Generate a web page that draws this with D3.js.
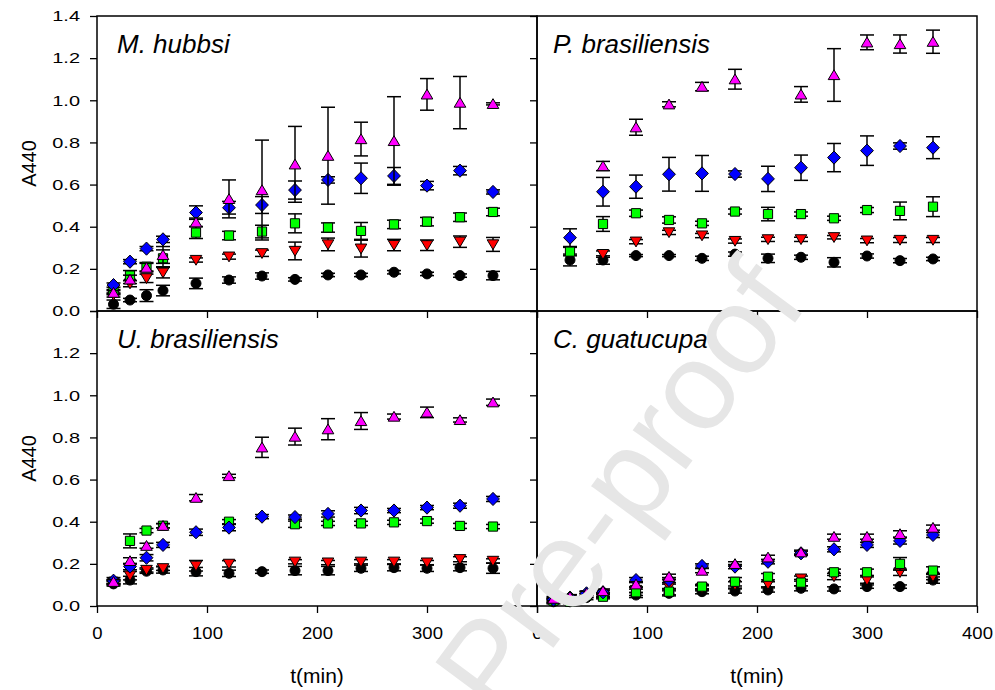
<!DOCTYPE html>
<html><head><meta charset="utf-8">
<script src="https://cdn.jsdelivr.net/npm/d3@7"></script>
<style>body{margin:0;background:#fff}svg{display:block}</style>
</head><body><svg id="c" width="995" height="690"></svg>
<script>
// ---------- DATA ----------
const timesA = [15,30,45,60,90,120,150,180,210,240,270,300,330,360];
const timesB = [30,60,90,120,150,180,210,240,270,300,330,360];
const xTicks = [0,100,200,300,400];
const yTicks = [0,0.2,0.4,0.6,0.8,1.0,1.2,1.4];
const panelTitles = ["M. hubbsi","P. brasiliensis","U. brasiliensis","C. guatucupa"];
const seriesShapes = ["circle","triDown","square","diamond","triUp"];
const seriesColors = ["#000000","#ff0000","#00ff00","#0000ff","#ff00ff"];

// M. hubbsi
const hubCircle  = [0.032,0.052,0.073,0.097,0.131,0.147,0.166,0.150,0.171,0.171,0.184,0.176,0.168,0.168];
const hubCircleE = [0.02,0.008,0.028,0.025,0.025,0.015,0.015,0.008,0.008,0.008,0.008,0.008,0.008,0.02];
const hubDown    = [0.076,0.13,0.155,0.182,0.242,0.258,0.274,0.285,0.316,0.296,0.313,0.312,0.329,0.316];
const hubDownE   = [0.01,0.015,0.02,0.025,0.01,0.012,0.015,0.042,0.03,0.04,0.027,0.025,0.027,0.033];
const hubSquare  = [0.092,0.168,0.21,0.25,0.372,0.358,0.377,0.416,0.396,0.38,0.411,0.424,0.445,0.47];
const hubSquareE = [0.01,0.024,0.02,0.04,0.028,0.02,0.03,0.045,0.022,0.04,0.02,0.02,0.02,0.018];
const hubDiam    = [0.123,0.234,0.296,0.34,0.467,0.49,0.503,0.574,0.622,0.63,0.641,0.595,0.666,0.565];
const hubDiamE   = [0.01,0.01,0.01,0.015,0.032,0.03,0.04,0.043,0.015,0.072,0.04,0.02,0.02,0.01];
const hubUp      = [0.087,0.15,0.206,0.266,0.421,0.532,0.574,0.696,0.737,0.816,0.807,1.028,0.989,0.983];
const hubUpE     = [0.01,0.02,0.02,0.04,0.02,0.09,0.237,0.18,0.23,0.08,0.21,0.075,0.124,0.005];

// P. brasiliensis
const pbrCircle  = [0.242,0.242,0.263,0.263,0.25,0.27,0.25,0.255,0.231,0.261,0.239,0.247];
const pbrCircleE = [0.028,0.02,0.005,0.005,0.01,0.01,0.02,0.01,0.022,0.01,0.01,0.008];
const pbrDown    = [null,0.27,0.329,0.373,0.358,0.332,0.34,0.34,0.35,0.334,0.337,0.337];
const pbrDownE   = [0,0.015,0.01,0.01,0.01,0.01,0.01,0.01,0.008,0.01,0.012,0.012];
const pbrSquare  = [0.282,0.413,0.464,0.432,0.416,0.472,0.46,0.46,0.44,0.479,0.475,0.495];
const pbrSquareE = [0.02,0.035,0.015,0.015,0.01,0.012,0.032,0.01,0.01,0.012,0.042,0.047];
const pbrDiam    = [0.348,0.566,0.59,0.649,0.653,0.65,0.627,0.68,0.728,0.761,0.783,0.775];
const pbrDiamE   = [0.042,0.068,0.055,0.08,0.085,0.015,0.06,0.06,0.067,0.07,0.015,0.052];
const pbrUp      = [null,0.688,0.872,0.981,1.065,1.10,null,1.028,1.12,1.275,1.267,1.278];
const pbrUpE     = [0,0.022,0.038,0.012,0.02,0.047,0,0.037,0.125,0.035,0.043,0.055];

// U. brasiliensis
const ubrCircle  = [0.105,0.123,0.165,0.171,0.163,0.155,0.163,0.168,0.168,0.179,0.182,0.179,0.182,0.179];
const ubrCircleE = [0.01,0.018,0.01,0.015,0.02,0.015,0.008,0.02,0.02,0.015,0.015,0.015,0.015,0.024];
const ubrDown    = [0.11,0.144,0.171,0.179,0.191,0.2,null,0.21,0.206,0.21,0.21,0.206,0.222,0.214];
const ubrDownE   = [0.01,0.02,0.01,0.01,0.025,0.015,0,0.01,0.01,0.01,0.01,0.01,0.012,0.01];
const ubrSquare  = [0.115,0.309,0.358,0.381,null,0.4,null,0.388,0.392,0.392,0.397,0.403,0.38,0.377];
const ubrSquareE = [0.01,0.033,0.01,0.01,0,0.01,0,0.015,0.01,0.01,0.01,0.01,0.012,0.01];
const ubrDiam    = [0.12,0.187,0.229,0.29,0.35,0.372,0.424,0.422,0.437,0.453,0.453,0.467,0.476,0.508];
const ubrDiamE   = [0.015,0.015,0.015,0.012,0.015,0.015,0.01,0.01,0.015,0.015,0.01,0.01,0.012,0.012];
const ubrUp      = [0.115,0.214,0.286,0.381,0.514,0.617,0.753,0.804,0.839,0.878,0.899,0.919,0.883,0.967];
const ubrUpE     = [0.01,0.015,0.012,0.01,0.015,0.008,0.048,0.04,0.05,0.04,0.012,0.025,0.01,0.015];

// C. guatucupa
const cguCircle  = [0.02,0.02,0.04,0.05,0.052,0.06,0.068,0.071,0.076,0.084,0.081,0.092,0.092,0.123];
const cguCircleE = [0.01,0.01,0.01,0.01,0.012,0.012,0.01,0.01,0.01,0.012,0.01,0.008,0.008,0.015];
const cguDown    = [0.025,0.03,0.05,0.055,0.076,0.092,0.084,0.1,0.103,0.13,0.14,0.123,0.16,0.14];
const cguDownE   = [0.01,0.01,0.01,0.01,0.012,0.012,0.012,0.015,0.012,0.012,0.015,0.015,0.015,0.015];
const cguSquare  = [0.025,0.02,0.05,0.044,0.065,0.068,0.092,0.115,0.139,0.111,0.16,0.16,0.2,0.168];
const cguSquareE = [0.01,0.01,0.01,0.01,0.015,0.015,0.01,0.02,0.015,0.015,0.015,0.015,0.03,0.018];
const cguDiam    = [0.03,0.04,0.06,0.065,0.123,0.123,0.19,0.187,0.21,0.25,0.269,0.29,0.309,0.337];
const cguDiamE   = [0.01,0.01,0.01,0.01,0.012,0.012,0.01,0.01,0.01,0.01,0.012,0.012,0.015,0.012];
const cguUp      = [0.035,0.044,0.06,0.071,0.103,0.139,0.168,0.2,0.231,0.255,0.329,0.329,0.342,0.372];
const cguUpE     = [0.01,0.01,0.01,0.01,0.012,0.012,0.01,0.01,0.01,0.01,0.012,0.012,0.015,0.012];

// ---------- BUILD ----------
const panels = [
  {title: panelTitles[0], col:0, row:0, times: timesA,
   means:[hubCircle,hubDown,hubSquare,hubDiam,hubUp], errs:[hubCircleE,hubDownE,hubSquareE,hubDiamE,hubUpE]},
  {title: panelTitles[1], col:1, row:0, times: timesB,
   means:[pbrCircle,pbrDown,pbrSquare,pbrDiam,pbrUp], errs:[pbrCircleE,pbrDownE,pbrSquareE,pbrDiamE,pbrUpE]},
  {title: panelTitles[2], col:0, row:1, times: timesA,
   means:[ubrCircle,ubrDown,ubrSquare,ubrDiam,ubrUp], errs:[ubrCircleE,ubrDownE,ubrSquareE,ubrDiamE,ubrUpE]},
  {title: panelTitles[3], col:1, row:1, times: timesA,
   means:[cguCircle,cguDown,cguSquare,cguDiam,cguUp], errs:[cguCircleE,cguDownE,cguSquareE,cguDiamE,cguUpE]}
];

const svg = d3.select("#c");
const FONT = "'Liberation Sans', Arial, Helvetica, sans-serif";
const colX = [[97,537],[537,977]];
const rowY = [[311,16],[606,311]];

const shapePath = {
  circle:  "M5,0A5,5,0,1,1,-5,0A5,5,0,1,1,5,0Z",
  square:  "M-4.6,-4.6H4.6V4.6H-4.6Z",
  diamond: "M0,-6.6L6.4,0L0,6.6L-6.4,0Z",
  triUp:   "M0,-5.2L5.8,4.6L-5.8,4.6Z",
  triDown: "M0,5.2L5.8,-4.6L-5.8,-4.6Z"
};

panels.forEach(p => {
  const x = d3.scaleLinear().domain([0,400]).range(colX[p.col]);
  const y = d3.scaleLinear().domain([0,1.4]).range(rowY[p.row]);
  const g = svg.append("g");

  g.append("rect")
    .attr("x", x(0)).attr("y", y(1.4))
    .attr("width", x(400)-x(0)).attr("height", y(0)-y(1.4))
    .attr("fill","none").attr("stroke","#000").attr("stroke-width",1.5);

  const yAxis = d3.axisLeft(y).tickValues(yTicks).tickSize(7).tickPadding(10)
    .tickFormat(d => (p.col===0 && !(p.row===1 && d===1.4)) ? d3.format(".1f")(d) : "");
  const ya = g.append("g").attr("class","yax").attr("transform",`translate(${x(0)},0)`).call(yAxis);
  ya.select(".domain").remove();
  ya.selectAll("line").attr("stroke-width",1.3);
  ya.selectAll("text").style("font-family",FONT).style("font-size","15px").attr("fill","#000");

  const xAxis = d3.axisBottom(x).tickValues(xTicks).tickSize(7).tickPadding(14)
    .tickFormat(d => (p.row===1 && !(p.col===0 && d===400)) ? String(d) : "");
  const xa = g.append("g").attr("class","xax").attr("transform",`translate(0,${y(0)})`).call(xAxis);
  xa.select(".domain").remove();
  xa.selectAll("line").attr("stroke-width",1.3);
  xa.selectAll("text").style("font-family",FONT).style("font-size","16.5px").attr("fill","#000");

  g.append("text")
    .attr("x", x(0) + (p.col===0 ? 20 : 16))
    .attr("y", y(1.4) + 37)
    .style("font-family",FONT).style("font-size","26px").style("font-style","italic")
    .attr("fill","#000").text(p.title);

  p.means.forEach((vals, si) => {
    const pts = p.times.map((t,i) => ({t, v: vals[i], e: p.errs[si][i]})).filter(d => d.v !== null);
    const sg = g.append("g");
    pts.filter(d => d.e > 0.004).forEach(d => {
      const cx = x(d.t), y1 = y(d.v + d.e), y2 = y(d.v - d.e);
      sg.append("line").attr("x1",cx).attr("x2",cx).attr("y1",y1).attr("y2",y2)
        .attr("stroke","#000").attr("stroke-width",1.5);
      [y1,y2].forEach(yy => sg.append("line").attr("x1",cx-7).attr("x2",cx+7)
        .attr("y1",yy).attr("y2",yy).attr("stroke","#000").attr("stroke-width",1.5));
    });
    sg.selectAll("path.m").data(pts).join("path").attr("class","m")
      .attr("d", shapePath[seriesShapes[si]])
      .attr("transform", d => `translate(${x(d.t)},${y(d.v)})`)
      .attr("fill", seriesColors[si]).attr("stroke","#000").attr("stroke-width",1);
  });
});

svg.selectAll(".yax text").each(function(){
  const t = d3.select(this); if (!t.text()) return;
  const L = this.getComputedTextLength();
  t.attr("textLength", L*1.33).attr("lengthAdjust","spacingAndGlyphs");
});
svg.selectAll(".xax text").each(function(){
  const t = d3.select(this); if (!t.text()) return;
  const L = this.getComputedTextLength();
  t.attr("textLength", L*1.12).attr("lengthAdjust","spacingAndGlyphs");
});

[163.5, 458.5].forEach(cy => {
  svg.append("text").attr("transform",`translate(36,${cy}) rotate(-90)`)
    .attr("text-anchor","middle").style("font-family",FONT).style("font-size","20px")
    .attr("fill","#000").text("A440");
});
[317, 757].forEach(cx => {
  svg.append("text").attr("x",cx).attr("y",683).attr("text-anchor","middle")
    .style("font-family",FONT).style("font-size","21px").attr("fill","#000").text("t(min)");
});

// watermark
svg.append("text")
  .attr("transform","translate(472,702) rotate(-53.4)")
  .attr("text-anchor","start").attr("dominant-baseline","middle")
  .style("font-family",FONT).style("font-size","125px")
  .attr("fill","#e6e6e6").text("Pre-proof");
</script></body></html>
